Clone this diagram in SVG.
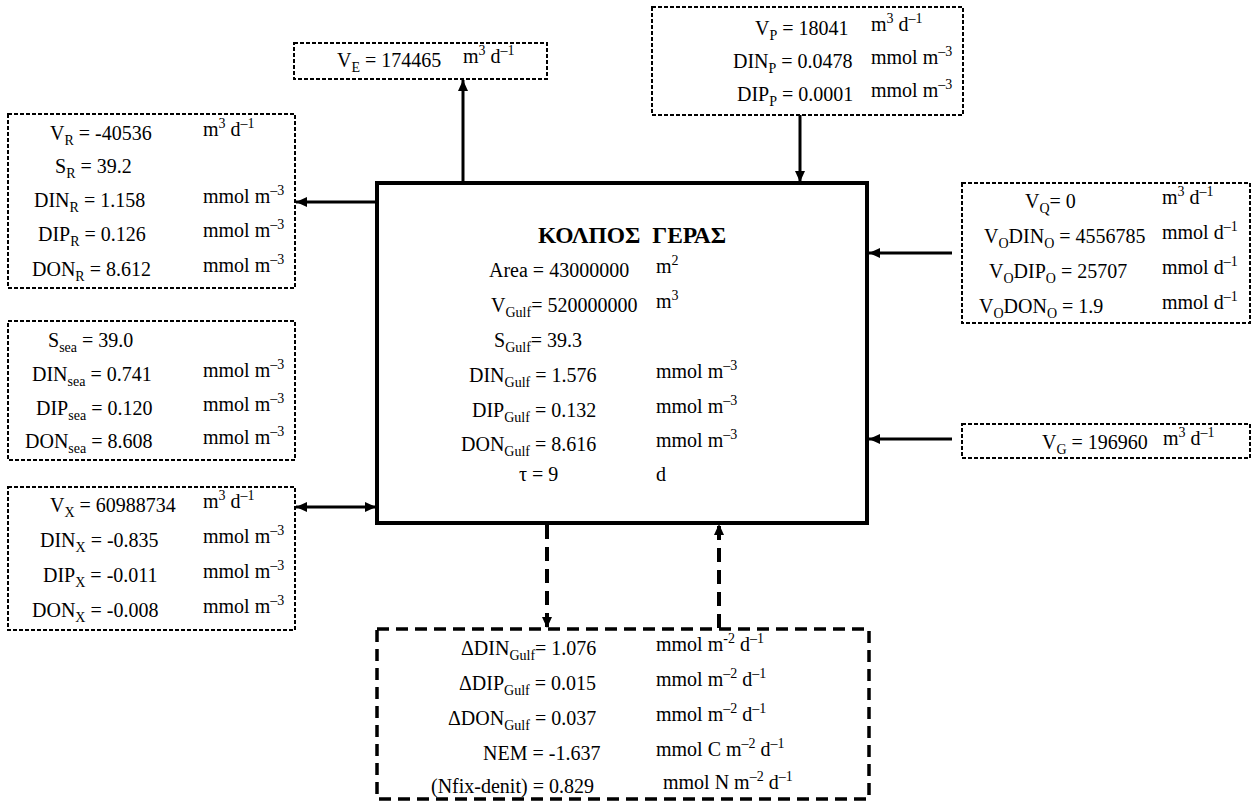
<svg xmlns="http://www.w3.org/2000/svg" width="1252" height="802" viewBox="0 0 1252 802">
  <style>
    text { font-family: "Liberation Serif", Tinos, "Times New Roman", Times, "DejaVu Serif", serif; fill: #000; }
    .t { font-size: 20px; }
    .s { font-size: 14px; }
    .title { font-size: 23.5px; font-weight: bold; }
    .box { fill: #fff; stroke: #000; stroke-width: 2; stroke-dasharray: 4 2; }
    .main { fill: #fff; stroke: #000; stroke-width: 4; }
    .bbox { fill: #fff; stroke: #000; stroke-width: 3.5; stroke-dasharray: 12 7; }
    .flow { fill: none; stroke: #000; stroke-width: 3; marker-end: url(#head); }
    .two { marker-start: url(#headR); }
    .dflow { fill: none; stroke: #000; stroke-width: 4; stroke-dasharray: 14 8; marker-end: url(#head); }
  </style>
  <defs>
    <marker id="head" markerUnits="userSpaceOnUse" markerWidth="12" markerHeight="10" refX="11" refY="5" orient="auto">
      <path d="M0,0 L11,5 L0,10 z" fill="#000"/>
    </marker>
    <marker id="headR" markerUnits="userSpaceOnUse" markerWidth="12" markerHeight="10" refX="11" refY="5" orient="auto-start-reverse">
      <path d="M0,0 L11,5 L0,10 z" fill="#000"/>
    </marker>
  </defs>

  <!-- connectors -->
  <g id="connectors">
    <line class="flow" x1="463" y1="183" x2="463" y2="80"/>
    <line class="flow" x1="800" y1="115" x2="800" y2="182"/>
    <line class="flow" x1="377" y1="202" x2="296" y2="202"/>
    <line class="flow" x1="952" y1="253" x2="869" y2="253"/>
    <line class="flow" x1="952" y1="439" x2="869" y2="439"/>
    <line class="flow two" x1="296" y1="507" x2="376" y2="507"/>
    <line class="dflow" x1="547" y1="525" x2="547" y2="628"/>
    <line class="dflow" x1="719" y1="628" x2="719" y2="524"/>
  </g>

  <!-- evaporation -->
  <g id="evaporation">
    <rect class="box" x="294" y="43" width="253" height="36"/>
    <text class="t" x="337" y="67">V<tspan class="s" dy="5">E</tspan><tspan dy="-5"> = 174465</tspan></text>
    <text class="t" x="463" y="63">m<tspan class="s" dy="-8">3</tspan><tspan dy="8"> d</tspan><tspan class="s" dy="-8">–1</tspan></text>
  </g>

  <!-- precipitation -->
  <g id="precipitation">
    <rect class="box" x="652" y="7" width="311" height="108"/>
    <text class="t" x="755" y="35">V<tspan class="s" dy="5">P</tspan><tspan dy="-5"> = 18041</tspan></text>
    <text class="t" x="871" y="31">m<tspan class="s" dy="-8">3</tspan><tspan dy="8"> d</tspan><tspan class="s" dy="-8">–1</tspan></text>
    <text class="t" x="733" y="68">DIN<tspan class="s" dy="5">P</tspan><tspan dy="-5"> = 0.0478</tspan></text>
    <text class="t" x="871" y="64">mmol m<tspan class="s" dy="-8">–3</tspan></text>
    <text class="t" x="737" y="101">DIP<tspan class="s" dy="5">P</tspan><tspan dy="-5"> = 0.0001</tspan></text>
    <text class="t" x="871" y="97">mmol m<tspan class="s" dy="-8">–3</tspan></text>
  </g>

  <!-- residual flow -->
  <g id="residual">
    <rect class="box" x="8" y="114" width="287" height="174"/>
    <text class="t" x="50" y="140">V<tspan class="s" dy="5">R</tspan><tspan dy="-5"> = -40536</tspan></text>
    <text class="t" x="203" y="136">m<tspan class="s" dy="-8">3</tspan><tspan dy="8"> d</tspan><tspan class="s" dy="-8">–1</tspan></text>
    <text class="t" x="55" y="173">S<tspan class="s" dy="5">R</tspan><tspan dy="-5"> = 39.2</tspan></text>
    <text class="t" x="34" y="207">DIN<tspan class="s" dy="5">R</tspan><tspan dy="-5"> = 1.158</tspan></text>
    <text class="t" x="203" y="203">mmol m<tspan class="s" dy="-8">–3</tspan></text>
    <text class="t" x="38" y="241">DIP<tspan class="s" dy="5">R</tspan><tspan dy="-5"> = 0.126</tspan></text>
    <text class="t" x="203" y="237">mmol m<tspan class="s" dy="-8">–3</tspan></text>
    <text class="t" x="32" y="276">DON<tspan class="s" dy="5">R</tspan><tspan dy="-5"> = 8.612</tspan></text>
    <text class="t" x="203" y="272">mmol m<tspan class="s" dy="-8">–3</tspan></text>
  </g>

  <!-- open sea -->
  <g id="sea">
    <rect class="box" x="8" y="321" width="287" height="139"/>
    <text class="t" x="48" y="347">S<tspan class="s" dy="5">sea</tspan><tspan dy="-5"> = 39.0</tspan></text>
    <text class="t" x="32" y="381">DIN<tspan class="s" dy="5">sea</tspan><tspan dy="-5"> = 0.741</tspan></text>
    <text class="t" x="203" y="377">mmol m<tspan class="s" dy="-8">–3</tspan></text>
    <text class="t" x="36" y="415">DIP<tspan class="s" dy="5">sea</tspan><tspan dy="-5"> = 0.120</tspan></text>
    <text class="t" x="203" y="411">mmol m<tspan class="s" dy="-8">–3</tspan></text>
    <text class="t" x="25" y="448">DON<tspan class="s" dy="5">sea</tspan><tspan dy="-5"> = 8.608</tspan></text>
    <text class="t" x="203" y="444">mmol m<tspan class="s" dy="-8">–3</tspan></text>
  </g>

  <!-- exchange flow -->
  <g id="exchange">
    <rect class="box" x="8" y="487" width="287" height="143"/>
    <text class="t" x="50" y="512">V<tspan class="s" dy="5">X</tspan><tspan dy="-5"> = 60988734</tspan></text>
    <text class="t" x="203" y="508">m<tspan class="s" dy="-8">3</tspan><tspan dy="8"> d</tspan><tspan class="s" dy="-8">–1</tspan></text>
    <text class="t" x="40" y="547">DIN<tspan class="s" dy="5">X</tspan><tspan dy="-5"> = -0.835</tspan></text>
    <text class="t" x="203" y="543">mmol m<tspan class="s" dy="-8">–3</tspan></text>
    <text class="t" x="43" y="582">DIP<tspan class="s" dy="5">X</tspan><tspan dy="-5"> = -0.011</tspan></text>
    <text class="t" x="203" y="578">mmol m<tspan class="s" dy="-8">–3</tspan></text>
    <text class="t" x="32" y="617">DON<tspan class="s" dy="5">X</tspan><tspan dy="-5"> = -0.008</tspan></text>
    <text class="t" x="203" y="613">mmol m<tspan class="s" dy="-8">–3</tspan></text>
  </g>

  <!-- gulf -->
  <g id="gulf">
    <rect class="main" x="377" y="183" width="490" height="340"/>
    <text class="title" x="632" y="243" text-anchor="middle" xml:space="preserve">ΚΟΛΠΟΣ  ΓΕΡΑΣ</text>
    <text class="t" x="489" y="277">Area = 43000000</text>
    <text class="t" x="656" y="273">m<tspan class="s" dy="-8">2</tspan></text>
    <text class="t" x="491" y="312">V<tspan class="s" dy="5">Gulf</tspan><tspan dy="-5">= 520000000</tspan></text>
    <text class="t" x="656" y="308">m<tspan class="s" dy="-8">3</tspan></text>
    <text class="t" x="494" y="347">S<tspan class="s" dy="5">Gulf</tspan><tspan dy="-5">= 39.3</tspan></text>
    <text class="t" x="469" y="382">DIN<tspan class="s" dy="5">Gulf</tspan><tspan dy="-5"> = 1.576</tspan></text>
    <text class="t" x="656" y="378">mmol m<tspan class="s" dy="-8">–3</tspan></text>
    <text class="t" x="472" y="417">DIP<tspan class="s" dy="5">Gulf</tspan><tspan dy="-5"> = 0.132</tspan></text>
    <text class="t" x="656" y="413">mmol m<tspan class="s" dy="-8">–3</tspan></text>
    <text class="t" x="461" y="451">DON<tspan class="s" dy="5">Gulf</tspan><tspan dy="-5"> = 8.616</tspan></text>
    <text class="t" x="656" y="447">mmol m<tspan class="s" dy="-8">–3</tspan></text>
    <text class="t" x="519" y="481">τ = 9</text>
    <text class="t" x="656" y="481">d</text>
  </g>

  <!-- other inputs -->
  <g id="inputs">
    <rect class="box" x="962" y="183" width="288" height="140"/>
    <text class="t" x="1025" y="208">V<tspan class="s" dy="5">Q</tspan><tspan dy="-5">= 0</tspan></text>
    <text class="t" x="1162" y="204">m<tspan class="s" dy="-8">3</tspan><tspan dy="8"> d</tspan><tspan class="s" dy="-8">–1</tspan></text>
    <text class="t" x="984" y="243">V<tspan class="s" dy="5">O</tspan><tspan dy="-5">DIN</tspan><tspan class="s" dy="5">O</tspan><tspan dy="-5"> = 4556785</tspan></text>
    <text class="t" x="1162" y="239">mmol d<tspan class="s" dy="-8">–1</tspan></text>
    <text class="t" x="989" y="278">V<tspan class="s" dy="5">O</tspan><tspan dy="-5">DIP</tspan><tspan class="s" dy="5">O</tspan><tspan dy="-5"> = 25707</tspan></text>
    <text class="t" x="1162" y="274">mmol d<tspan class="s" dy="-8">–1</tspan></text>
    <text class="t" x="979" y="313">V<tspan class="s" dy="5">O</tspan><tspan dy="-5">DON</tspan><tspan class="s" dy="5">O</tspan><tspan dy="-5"> = 1.9</tspan></text>
    <text class="t" x="1162" y="309">mmol d<tspan class="s" dy="-8">–1</tspan></text>
  </g>

  <!-- groundwater -->
  <g id="groundwater">
    <rect class="box" x="962" y="424" width="288" height="34"/>
    <text class="t" x="1042" y="449">V<tspan class="s" dy="5">G</tspan><tspan dy="-5"> = 196960</tspan></text>
    <text class="t" x="1163" y="445">m<tspan class="s" dy="-8">3</tspan><tspan dy="8"> d</tspan><tspan class="s" dy="-8">–1</tspan></text>
  </g>

  <!-- internal fluxes -->
  <g id="fluxes">
    <rect class="bbox" x="377" y="629" width="492" height="170"/>
    <text class="t" x="461" y="655">ΔDIN<tspan class="s" dy="5">Gulf</tspan><tspan dy="-5">= 1.076</tspan></text>
    <text class="t" x="656" y="651">mmol m<tspan class="s" dy="-8">-2</tspan><tspan dy="8"> d</tspan><tspan class="s" dy="-8">–1</tspan></text>
    <text class="t" x="459" y="690">ΔDIP<tspan class="s" dy="5">Gulf</tspan><tspan dy="-5"> = 0.015</tspan></text>
    <text class="t" x="656" y="686">mmol m<tspan class="s" dy="-8">–2</tspan><tspan dy="8"> d</tspan><tspan class="s" dy="-8">–1</tspan></text>
    <text class="t" x="448" y="725">ΔDON<tspan class="s" dy="5">Gulf</tspan><tspan dy="-5"> = 0.037</tspan></text>
    <text class="t" x="656" y="721">mmol m<tspan class="s" dy="-8">–2</tspan><tspan dy="8"> d</tspan><tspan class="s" dy="-8">–1</tspan></text>
    <text class="t" x="483" y="760">NEM = -1.637</text>
    <text class="t" x="656" y="756">mmol C m<tspan class="s" dy="-8">–2</tspan><tspan dy="8"> d</tspan><tspan class="s" dy="-8">–1</tspan></text>
    <text class="t" x="431" y="793">(Nfix-denit) = 0.829</text>
    <text class="t" x="663" y="789">mmol N m<tspan class="s" dy="-8">–2</tspan><tspan dy="8"> d</tspan><tspan class="s" dy="-8">–1</tspan></text>
  </g>
</svg>
